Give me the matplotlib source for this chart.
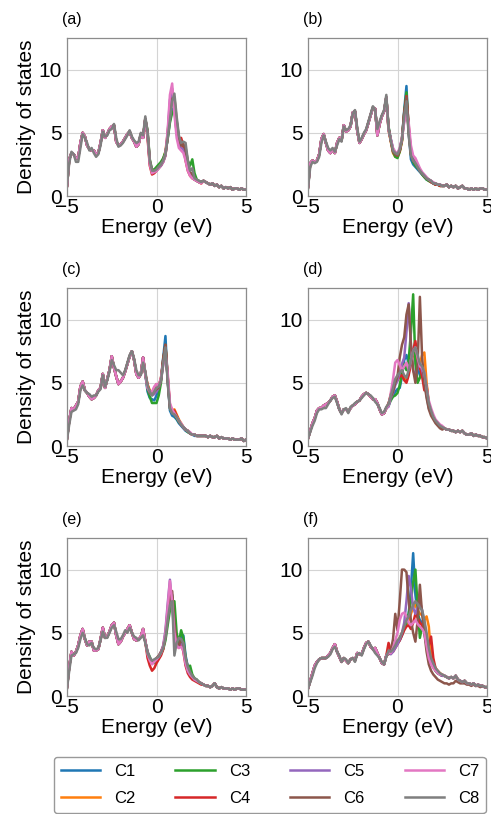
import numpy as np
import matplotlib
matplotlib.use("Agg")
import matplotlib.pyplot as plt

# - DATA - #
# energy grid (eV), 0.125 eV step; each curve = low part (-5..-0.625) + mid part (-0.5..2.5) + tail (2.625..5)
energy = np.linspace(-5, 5, 81)
series_names = ["C1", "C2", "C3", "C4", "C5", "C6", "C7", "C8"]
series_colors = ["tab:blue", "tab:orange", "tab:green", "tab:red",
                 "tab:purple", "tab:brown", "tab:pink", "tab:gray"]
panel_tags = ["(a)", "(b)", "(c)", "(d)", "(e)", "(f)"]

# (a)
a_low = [0.8, 2.9, 3.4, 3.3, 3.0, 3.0,
         4.2, 5.0, 4.7, 4.0, 3.7, 3.6,
         3.6, 3.3, 3.4, 4.2, 5.2, 4.6,
         4.9, 5.3, 5.5, 5.6, 4.3, 4.0,
         4.1, 4.3, 4.6, 4.9, 5.1, 4.6,
         4.3, 3.9, 4.1, 4.9, 4.6, 6.1]
a_low_c8 = [0.9, 2.6, 3.5, 3.3, 2.7, 2.7,
            3.8, 4.9, 4.6, 4.2, 3.6, 3.8,
            3.4, 3.1, 3.3, 4.0, 5.1, 4.7,
            4.8, 5.2, 5.3, 5.7, 4.6, 3.9,
            4.0, 4.2, 4.5, 4.8, 5.2, 4.7,
            4.4, 4.2, 4.3, 5.0, 4.8, 6.3]
a_mid_c1 = [4.9, 2.6, 2.0, 2.0, 2.1, 2.3, 2.6, 2.9, 3.4, 4.6, 6.0, 6.8, 7.0, 5.8, 4.4, 4.0, 3.9, 3.3, 2.4, 1.8, 1.6, 1.3, 1.2, 1.1, 1.1]
a_mid_c2 = [4.9, 2.6, 1.9, 2.0, 2.2, 2.4, 2.6, 2.9, 3.5, 5.0, 7.0, 8.0, 7.2, 5.2, 4.2, 3.9, 3.7, 3.6, 2.4, 1.7, 1.5, 1.3, 1.2, 1.1, 1.0]
a_mid_c3 = [5.2, 2.9, 2.1, 2.1, 2.3, 2.5, 2.7, 3.0, 3.5, 4.5, 5.8, 6.6, 6.8, 5.9, 4.6, 4.1, 4.0, 3.8, 2.8, 2.4, 2.9, 1.8, 1.3, 1.2, 1.1]
a_mid_c4 = [4.6, 2.4, 1.7, 1.8, 2.0, 2.2, 2.4, 2.7, 3.2, 4.8, 7.2, 8.3, 7.0, 5.0, 4.2, 4.6, 4.0, 2.8, 2.0, 1.6, 1.4, 1.3, 1.2, 1.1, 1.0]
a_mid_c5 = [5.0, 2.7, 2.0, 1.9, 2.0, 2.2, 2.4, 2.7, 3.2, 5.0, 7.6, 8.5, 6.9, 5.0, 4.0, 3.8, 3.7, 3.0, 2.2, 1.7, 1.5, 1.3, 1.2, 1.1, 1.1]
a_mid_c6 = [5.1, 2.8, 2.0, 2.0, 2.1, 2.3, 2.5, 2.8, 3.3, 4.7, 6.5, 7.6, 7.8, 6.0, 4.6, 4.0, 4.1, 3.6, 2.6, 1.9, 1.7, 1.4, 1.2, 1.1, 1.1]
a_mid_c7 = [4.8, 2.5, 1.8, 1.9, 2.0, 2.2, 2.5, 2.7, 3.3, 5.2, 8.0, 8.9, 6.5, 4.6, 3.8, 3.6, 3.4, 2.8, 2.0, 1.6, 1.4, 1.3, 1.2, 1.1, 1.0]
a_mid_c8 = [5.0, 2.8, 2.0, 2.0, 2.1, 2.3, 2.5, 2.8, 3.3, 4.6, 6.0, 7.5, 8.1, 6.3, 4.8, 4.2, 4.3, 4.2, 2.8, 2.0, 2.2, 1.4, 1.3, 1.2, 1.1]
a_tail = [1.2, 1.1, 1.0, 0.9, 1.0, 0.8, 0.9, 0.7, 0.8, 0.6, 0.7, 0.6, 0.7, 0.5, 0.6, 0.6, 0.5, 0.6, 0.5, 0.5]

# (b)
b_low = [0.7, 2.6, 2.8, 2.7, 2.8, 3.3,
         4.5, 4.9, 4.2, 3.6, 3.4, 3.7,
         3.4, 4.2, 4.6, 4.4, 5.6, 5.1,
         5.2, 5.5, 6.6, 6.7, 5.2, 4.2,
         4.5, 4.9, 5.2, 5.8, 6.4, 7.0,
         6.9, 4.8, 5.7, 6.3, 6.7, 7.8]
b_low_c8 = [0.6, 2.3, 2.7, 2.6, 2.7, 3.1,
            4.2, 4.8, 4.3, 3.8, 3.6, 3.8,
            3.5, 4.0, 4.5, 4.3, 5.5, 5.2,
            5.3, 5.6, 6.5, 6.8, 5.4, 4.3,
            4.6, 5.0, 5.3, 5.9, 6.5, 7.1,
            6.8, 5.3, 5.9, 6.4, 6.8, 8.0]
b_mid_c1 = [5.4, 4.5, 3.7, 3.3, 3.2, 3.6, 4.4, 6.8, 8.7, 5.0, 2.9, 2.5, 2.3, 2.1, 1.9, 1.7, 1.5, 1.3, 1.2, 1.1, 1.0, 0.9, 0.9, 0.8, 0.8]
b_mid_c2 = [5.2, 4.3, 3.4, 3.1, 3.1, 3.5, 4.3, 6.4, 7.6, 5.2, 3.4, 2.9, 2.5, 2.3, 2.0, 1.8, 1.5, 1.4, 1.2, 1.1, 1.0, 0.9, 0.9, 0.8, 0.8]
b_mid_c3 = [5.5, 4.4, 3.5, 3.1, 3.0, 3.5, 4.4, 6.6, 8.2, 5.3, 3.3, 2.7, 2.4, 2.2, 2.0, 1.7, 1.5, 1.3, 1.2, 1.1, 1.0, 0.9, 0.9, 0.8, 0.8]
b_mid_c4 = [5.3, 4.4, 3.6, 3.3, 3.2, 3.6, 4.5, 6.5, 7.9, 5.6, 3.5, 2.9, 2.7, 2.4, 2.1, 1.8, 1.6, 1.4, 1.3, 1.1, 1.0, 0.9, 0.9, 0.8, 0.8]
b_mid_c5 = [5.3, 4.5, 3.7, 3.4, 3.3, 3.7, 4.5, 6.0, 7.2, 5.4, 3.6, 2.9, 2.6, 2.3, 2.0, 1.8, 1.6, 1.4, 1.3, 1.2, 1.0, 1.0, 0.9, 0.9, 0.8]
b_mid_c6 = [5.4, 4.4, 3.5, 3.3, 3.2, 3.6, 4.6, 6.6, 7.8, 5.0, 3.3, 2.8, 2.6, 2.3, 2.0, 1.8, 1.6, 1.4, 1.3, 1.2, 1.0, 1.0, 0.9, 0.9, 0.8]
b_mid_c7 = [5.2, 4.5, 3.8, 3.5, 3.4, 3.8, 4.6, 5.8, 6.5, 5.8, 4.0, 3.2, 3.0, 2.6, 2.2, 1.9, 1.7, 1.5, 1.3, 1.2, 1.1, 1.0, 0.9, 0.9, 0.8]
b_mid_c8 = [5.3, 4.4, 3.6, 3.4, 3.3, 3.7, 4.5, 6.3, 7.5, 4.8, 3.2, 2.8, 2.6, 2.3, 2.0, 1.8, 1.6, 1.4, 1.3, 1.2, 1.0, 1.0, 0.9, 0.9, 0.8]
b_tail = [0.8, 0.9, 0.7, 0.8, 0.7, 0.8, 0.6, 0.7, 0.8, 0.6, 0.6, 0.5, 0.6, 0.5, 0.6, 0.5, 0.6, 0.6, 0.5, 0.5]

# (c)
c_low = [0.6, 2.0, 3.0, 2.9, 3.2, 3.5,
         4.7, 5.1, 4.4, 4.2, 3.9, 3.7,
         3.8, 4.0, 4.4, 4.6, 5.7, 4.6,
         5.3, 6.0, 7.1, 6.2, 5.5, 4.9,
         5.1, 5.4, 5.9, 6.5, 7.1, 7.5,
         6.8, 5.7, 5.4, 5.7, 7.0, 5.7]
c_low_c8 = [0.5, 1.7, 2.7, 2.8, 2.9, 3.3,
            4.4, 4.8, 4.4, 4.2, 4.1, 3.9,
            4.0, 4.0, 4.3, 4.5, 5.6, 4.7,
            5.2, 5.9, 6.8, 6.4, 6.0, 6.0,
            5.8, 5.6, 6.0, 6.6, 7.2, 7.5,
            6.9, 6.0, 5.6, 5.6, 6.6, 5.9]
c_mid_c1 = [4.3, 3.8, 3.7, 3.6, 4.0, 4.6, 5.3, 7.0, 8.7, 5.2, 2.8, 2.4, 2.3, 2.1, 1.8, 1.6, 1.4, 1.2, 1.1, 1.0, 0.9, 0.8, 0.8, 0.8, 0.8]
c_mid_c2 = [4.9, 4.4, 4.2, 4.4, 4.5, 4.7, 5.4, 6.7, 7.8, 5.5, 3.2, 2.8, 2.9, 2.5, 2.1, 1.8, 1.5, 1.3, 1.2, 1.0, 0.9, 0.9, 0.8, 0.8, 0.8]
c_mid_c3 = [4.5, 3.9, 3.4, 3.4, 3.4, 4.0, 5.0, 6.8, 8.0, 5.3, 3.0, 2.6, 2.5, 2.2, 1.9, 1.7, 1.5, 1.3, 1.1, 1.0, 0.9, 0.9, 0.8, 0.8, 0.8]
c_mid_c4 = [4.8, 4.3, 4.2, 4.6, 4.9, 4.8, 5.3, 6.8, 8.0, 5.5, 3.2, 2.8, 2.8, 2.4, 2.0, 1.7, 1.5, 1.3, 1.2, 1.0, 0.9, 0.9, 0.8, 0.8, 0.8]
c_mid_c5 = [4.6, 4.2, 4.0, 4.1, 4.3, 4.6, 5.2, 6.4, 7.5, 5.4, 3.1, 2.6, 2.5, 2.3, 2.0, 1.7, 1.5, 1.3, 1.2, 1.0, 0.9, 0.9, 0.8, 0.8, 0.8]
c_mid_c6 = [4.7, 4.2, 4.1, 4.3, 4.5, 4.6, 5.2, 6.9, 8.0, 5.2, 3.0, 2.7, 2.6, 2.3, 2.0, 1.7, 1.5, 1.3, 1.2, 1.0, 0.9, 0.9, 0.8, 0.8, 0.8]
c_mid_c7 = [4.6, 4.3, 4.3, 4.7, 4.9, 4.8, 5.4, 6.5, 7.3, 5.8, 3.4, 2.9, 2.6, 2.3, 2.0, 1.8, 1.5, 1.3, 1.2, 1.1, 0.9, 0.9, 0.8, 0.8, 0.8]
c_mid_c8 = [4.8, 4.3, 4.0, 4.3, 4.6, 4.7, 5.2, 6.5, 7.8, 5.0, 3.0, 2.6, 2.5, 2.3, 2.0, 1.7, 1.5, 1.3, 1.2, 1.0, 0.9, 0.9, 0.8, 0.8, 0.8]
c_tail = [0.8, 0.8, 0.7, 0.8, 0.7, 0.7, 0.8, 0.6, 0.7, 0.6, 0.6, 0.6, 0.5, 0.6, 0.5, 0.5, 0.5, 0.6, 0.4, 0.5]

# (d)
d_low = [0.6, 1.2, 1.8, 2.2, 2.8, 3.0,
         3.0, 3.2, 3.3, 3.4, 3.6, 3.9,
         4.0, 3.5, 2.9, 2.6, 2.9, 2.9,
         2.7, 3.0, 3.2, 3.3, 3.5, 3.6,
         3.9, 4.1, 4.2, 4.1, 3.9, 3.7,
         3.7, 3.4, 2.9, 2.5, 2.6, 3.0]
d_low_c8 = [0.6, 1.1, 1.6, 2.0, 2.6, 2.9,
            2.9, 3.0, 3.0, 3.3, 3.6, 3.8,
            3.9, 3.4, 2.9, 2.5, 2.9, 3.0,
            2.6, 3.1, 3.2, 3.4, 3.5, 3.6,
            3.8, 4.0, 4.2, 4.1, 4.0, 3.8,
            3.5, 3.3, 3.0, 2.6, 2.7, 3.1]
d_mid_c1 = [3.2, 3.8, 4.0, 4.3, 4.5, 4.6, 5.5, 6.8, 7.2, 6.5, 7.0, 7.6, 7.2, 6.2, 5.6, 5.8, 5.2, 4.0, 3.0, 2.6, 2.2, 1.9, 1.7, 1.5, 1.4]
d_mid_c2 = [3.3, 4.1, 4.6, 5.0, 5.4, 5.6, 5.8, 5.4, 5.2, 5.8, 6.6, 7.2, 7.4, 6.8, 6.5, 7.2, 7.4, 5.0, 3.4, 2.8, 2.3, 2.0, 1.8, 1.6, 1.5]
d_mid_c3 = [3.2, 3.6, 3.9, 4.0, 4.2, 4.8, 5.8, 6.5, 6.0, 6.8, 9.0, 12.0, 6.5, 5.0, 5.4, 6.0, 5.5, 4.2, 3.2, 2.7, 2.3, 2.0, 1.8, 1.6, 1.5]
d_mid_c4 = [3.3, 4.0, 4.5, 5.0, 5.2, 5.5, 5.6, 5.2, 5.0, 5.6, 6.5, 7.6, 8.3, 7.0, 6.2, 5.5, 4.4, 4.8, 3.2, 2.7, 2.3, 2.0, 1.8, 1.6, 1.5]
d_mid_c5 = [3.1, 3.8, 4.2, 4.8, 5.2, 5.8, 6.5, 7.0, 9.0, 11.3, 8.0, 6.0, 5.5, 6.2, 6.5, 6.0, 5.3, 4.2, 3.2, 2.7, 2.3, 2.0, 1.8, 1.6, 1.5]
d_mid_c6 = [3.4, 3.9, 4.3, 5.0, 5.5, 7.0, 8.0, 8.6, 10.4, 11.2, 8.0, 6.0, 5.0, 6.5, 11.8, 7.0, 5.0, 3.8, 2.9, 2.4, 2.1, 1.8, 1.6, 1.4, 1.3]
d_mid_c7 = [3.2, 4.2, 5.3, 6.6, 6.8, 6.4, 6.0, 6.3, 6.6, 6.0, 6.8, 7.5, 7.8, 7.0, 6.3, 6.2, 5.8, 4.6, 3.6, 3.0, 2.5, 2.1, 1.9, 1.7, 1.6]
d_mid_c8 = [3.3, 4.0, 4.6, 5.3, 5.6, 5.8, 6.0, 5.6, 5.4, 6.0, 6.8, 7.5, 7.8, 7.2, 6.5, 6.3, 5.8, 4.6, 3.4, 2.8, 2.3, 2.0, 1.8, 1.6, 1.5]
d_tail = [1.4, 1.3, 1.3, 1.2, 1.2, 1.1, 1.2, 1.1, 1.2, 1.0, 0.9, 0.9, 1.0, 0.8, 0.9, 0.8, 0.8, 0.7, 0.7, 0.6]

# (e)
e_low = [0.7, 2.3, 3.5, 3.2, 3.5, 4.0,
         4.8, 5.3, 4.5, 4.0, 4.3, 4.3,
         3.6, 3.6, 3.7, 4.5, 5.4, 4.6,
         4.7, 5.1, 5.6, 5.8, 4.8, 4.1,
         4.3, 4.7, 5.0, 5.3, 5.6, 5.0,
         4.5, 4.4, 4.5, 4.7, 5.3, 4.3]
e_low_c8 = [0.6, 2.0, 3.2, 3.3, 3.4, 3.8,
            4.5, 5.0, 4.6, 4.1, 4.0, 4.2,
            3.8, 3.7, 3.8, 4.4, 5.1, 4.6,
            4.6, 5.0, 5.4, 5.6, 5.1, 4.5,
            4.5, 4.8, 5.2, 5.0, 5.4, 5.0,
            4.7, 4.6, 4.4, 4.6, 4.8, 4.2]
e_mid_c1 = [3.4, 3.0, 2.8, 2.8, 2.9, 3.1, 3.4, 3.9, 4.8, 6.3, 7.8, 8.0, 6.0, 4.3, 4.1, 4.6, 4.8, 3.2, 2.3, 1.8, 1.5, 1.3, 1.2, 1.1, 1.0]
e_mid_c2 = [3.3, 2.9, 2.6, 2.7, 2.9, 3.1, 3.4, 3.9, 4.9, 6.8, 8.6, 7.8, 5.5, 4.3, 3.9, 4.4, 4.0, 2.8, 2.1, 1.8, 1.5, 1.3, 1.2, 1.1, 1.0]
e_mid_c3 = [3.5, 3.1, 2.7, 2.6, 2.8, 3.0, 3.3, 3.7, 4.4, 5.6, 6.8, 7.3, 7.5, 5.0, 4.2, 5.2, 4.6, 3.0, 2.3, 2.4, 1.7, 1.4, 1.3, 1.1, 1.0]
e_mid_c4 = [3.0, 2.4, 2.0, 2.2, 2.6, 2.9, 3.2, 3.7, 4.8, 6.6, 8.5, 7.6, 5.2, 4.0, 3.8, 4.3, 3.5, 2.4, 1.8, 1.5, 1.3, 1.2, 1.1, 1.0, 0.9]
e_mid_c5 = [3.5, 3.0, 2.7, 2.8, 2.9, 3.1, 3.5, 4.0, 5.2, 7.3, 9.2, 7.2, 4.8, 4.1, 4.0, 4.4, 3.8, 2.6, 2.0, 1.7, 1.5, 1.3, 1.2, 1.1, 1.0]
e_mid_c6 = [3.4, 2.9, 2.7, 2.8, 3.0, 3.2, 3.5, 3.9, 4.7, 6.2, 7.8, 8.3, 5.8, 4.2, 4.0, 4.5, 4.1, 2.9, 2.1, 1.7, 1.5, 1.3, 1.2, 1.1, 1.0]
e_mid_c7 = [3.3, 2.8, 2.5, 2.7, 2.9, 3.1, 3.4, 3.9, 5.0, 7.0, 9.1, 7.5, 5.0, 4.0, 3.8, 3.9, 3.6, 2.6, 2.0, 1.7, 1.5, 1.3, 1.2, 1.1, 1.0]
e_mid_c8 = [3.4, 3.0, 2.8, 2.9, 3.0, 3.1, 3.4, 3.8, 4.6, 6.0, 7.2, 7.5, 3.2, 4.2, 4.6, 4.5, 4.2, 3.0, 2.3, 1.9, 1.6, 1.4, 1.3, 1.1, 1.0]
e_tail = [0.9, 0.8, 0.8, 0.7, 0.8, 1.0, 0.7, 0.6, 0.7, 0.6, 0.6, 0.6, 0.5, 0.6, 0.5, 0.6, 0.6, 0.5, 0.5, 0.5]

# (f)
f_low = [0.6, 1.2, 1.8, 2.4, 2.7, 2.9,
         3.0, 3.0, 3.0, 3.2, 3.4, 3.8,
         4.1, 3.5, 3.1, 2.7, 3.0, 2.8,
         2.6, 2.9, 3.0, 2.8, 3.4, 3.3,
         3.3, 3.8, 4.2, 4.3, 3.9, 3.7,
         3.8, 3.4, 3.0, 2.6, 2.5, 3.2]
f_low_c8 = [0.6, 1.1, 1.6, 2.2, 2.6, 2.9,
            3.0, 3.0, 3.0, 3.1, 3.3, 3.7,
            3.9, 3.5, 3.2, 2.7, 3.0, 2.9,
            2.6, 2.9, 3.0, 2.7, 3.3, 3.4,
            3.2, 3.7, 4.1, 4.3, 4.0, 3.7,
            3.4, 3.2, 3.0, 2.7, 2.5, 3.1]
f_mid_c1 = [3.5, 3.4, 3.6, 3.9, 4.2, 4.4, 4.8, 5.3, 5.8, 6.5, 8.5, 11.3, 8.0, 6.5, 6.0, 5.8, 5.0, 4.0, 3.2, 2.6, 2.3, 2.0, 1.8, 1.7, 1.6]
f_mid_c2 = [3.6, 3.5, 3.7, 4.0, 4.3, 4.6, 5.0, 5.4, 5.6, 6.0, 6.5, 7.0, 7.2, 6.8, 6.5, 6.4, 6.0, 6.3, 5.5, 3.2, 2.6, 2.2, 2.0, 1.8, 1.7]
f_mid_c3 = [3.5, 3.4, 3.6, 3.9, 4.2, 4.5, 4.9, 5.3, 5.8, 6.5, 7.5, 9.0, 10.0, 7.0, 4.6, 5.5, 5.2, 4.2, 3.2, 2.7, 2.4, 2.0, 1.8, 1.7, 1.6]
f_mid_c4 = [4.2, 3.6, 3.5, 3.8, 4.1, 4.4, 4.8, 5.2, 5.5, 5.6, 5.3, 5.8, 6.5, 6.2, 5.8, 5.6, 5.2, 4.4, 4.0, 4.7, 3.0, 2.2, 1.9, 1.7, 1.6]
f_mid_c5 = [3.4, 3.3, 3.5, 3.8, 4.1, 4.5, 5.0, 5.8, 7.5, 9.5, 8.5, 7.0, 6.5, 7.0, 7.5, 6.8, 5.8, 4.5, 3.4, 2.8, 2.4, 2.1, 1.9, 1.7, 1.6]
f_mid_c6 = [3.3, 3.6, 4.5, 6.5, 5.2, 7.5, 10.0, 10.0, 9.8, 7.5, 6.0, 5.0, 4.3, 6.0, 8.8, 6.5, 5.0, 3.5, 2.5, 2.0, 1.7, 1.5, 1.3, 1.2, 1.1]
f_mid_c7 = [3.4, 3.4, 3.8, 4.4, 5.0, 6.0, 6.5, 6.6, 6.3, 5.8, 5.6, 5.8, 6.0, 5.7, 5.5, 5.3, 5.0, 4.0, 3.0, 2.5, 2.2, 2.0, 1.8, 1.7, 1.7]
f_mid_c8 = [3.6, 3.5, 3.7, 4.0, 4.4, 4.6, 5.0, 5.5, 6.0, 6.3, 6.8, 7.2, 7.5, 7.3, 7.0, 6.8, 6.0, 5.0, 3.8, 3.0, 2.6, 2.2, 2.0, 1.8, 1.7]
f_tail = [1.6, 1.5, 1.4, 1.5, 1.4, 1.6, 1.3, 1.2, 1.1, 1.2, 1.0, 1.0, 0.9, 1.0, 0.8, 0.9, 0.8, 0.8, 0.7, 0.7]
f_tail_c6 = [1.0, 1.0, 0.9, 1.0, 1.0, 1.2, 1.1, 1.0, 1.0, 1.0, 0.9, 0.9, 0.8, 0.9, 0.8, 0.8, 0.7, 0.8, 0.7, 0.7]

panels = [
    (a_low, a_low_c8, [a_mid_c1, a_mid_c2, a_mid_c3, a_mid_c4, a_mid_c5, a_mid_c6, a_mid_c7, a_mid_c8], [a_tail] * 8),
    (b_low, b_low_c8, [b_mid_c1, b_mid_c2, b_mid_c3, b_mid_c4, b_mid_c5, b_mid_c6, b_mid_c7, b_mid_c8], [b_tail] * 8),
    (c_low, c_low_c8, [c_mid_c1, c_mid_c2, c_mid_c3, c_mid_c4, c_mid_c5, c_mid_c6, c_mid_c7, c_mid_c8], [c_tail] * 8),
    (d_low, d_low_c8, [d_mid_c1, d_mid_c2, d_mid_c3, d_mid_c4, d_mid_c5, d_mid_c6, d_mid_c7, d_mid_c8], [d_tail] * 8),
    (e_low, e_low_c8, [e_mid_c1, e_mid_c2, e_mid_c3, e_mid_c4, e_mid_c5, e_mid_c6, e_mid_c7, e_mid_c8], [e_tail] * 8),
    (f_low, f_low_c8, [f_mid_c1, f_mid_c2, f_mid_c3, f_mid_c4, f_mid_c5, f_mid_c6, f_mid_c7, f_mid_c8],
     [f_tail] * 5 + [f_tail_c6] + [f_tail] * 2),
]

# - PLOTTING - #
plt.rcParams['font.family'] = ['Liberation Sans', 'DejaVu Sans']
W, H = 491, 814
fig = plt.figure(figsize=(W / 100, H / 100), dpi=100)

col_left = [67, 308]
row_top = [38, 288, 538]
ax_w, ax_h = 179, 158

handles = []
for p, (low, low_c8, mids, tails) in enumerate(panels):
    row, col = p // 2, p % 2
    ax = fig.add_axes([col_left[col] / W, 1 - (row_top[row] + ax_h) / H, ax_w / W, ax_h / H])
    for k in range(8):
        y = np.concatenate([low_c8 if k == 7 else low, mids[k], tails[k]])
        line, = ax.plot(energy, y, color=series_colors[k], lw=1.8, label=series_names[k])
        if p == 0:
            handles.append(line)
    ax.set_xlim(-5, 5)
    ax.set_ylim(0, 12.5)
    ax.set_xticks([-5, 0, 5])
    ax.set_yticks([0, 5, 10])
    ax.grid(True, color='#d4d4d4', lw=0.8)
    ax.set_axisbelow(True)
    for s in ax.spines.values():
        s.set_color('#8c8c8c')
        s.set_linewidth(0.9)
    ax.tick_params(axis='x', length=0, labelsize=15, pad=1.5)
    ax.tick_params(axis='y', length=0, labelsize=15, pad=3.5)
    ax.set_xlabel("Energy (eV)", fontsize=15, labelpad=1)
    if col == 0:
        ax.set_ylabel("Density of states", fontsize=15, labelpad=2)
    ax.text(-0.028, 1.12, panel_tags[p], transform=ax.transAxes, fontsize=11.5, ha='left', va='center')

fig.legend(handles, series_names, loc='upper left', bbox_to_anchor=(54 / W, 1 - 757 / H),
           ncol=4, fontsize=12, handlelength=2.35, handletextpad=0.85, columnspacing=2.4,
           labelspacing=0.75, borderpad=0.4, borderaxespad=0, edgecolor='#999999', framealpha=1)

plt.savefig('out.png', dpi=100)
